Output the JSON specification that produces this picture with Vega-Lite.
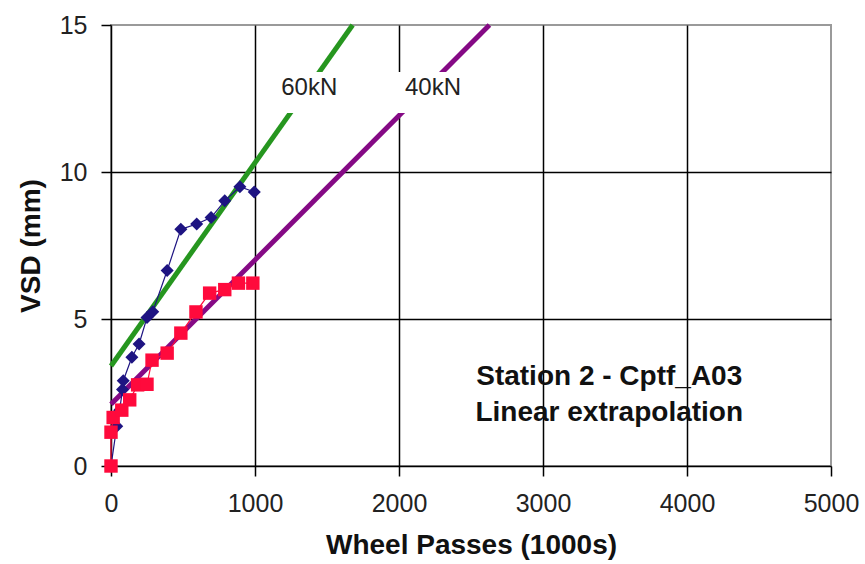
{
  "$schema": "https://vega.github.io/schema/vega-lite/v6.json",
  "width": 720,
  "height": 441,
  "autosize": "none",
  "padding": {"left": 111, "top": 25, "right": 34, "bottom": 98},
  "background": "white",
  "config": {
    "font": "Liberation Sans",
    "view": {"stroke": "#9a9a9a", "strokeWidth": 2},
    "axis": {
      "labelFont": "Liberation Sans",
      "titleFont": "Liberation Sans",
      "labelFontSize": 25,
      "labelColor": "#222",
      "titleFontSize": 28,
      "titleFontWeight": "bold",
      "titleColor": "#111",
      "domainColor": "#000",
      "domainWidth": 1.5,
      "tickColor": "#000",
      "tickWidth": 1.5,
      "tickSize": 10,
      "gridWidth": 1.5
    }
  },
  "datasets": {
    "fits": [
      {"series": "60kN", "x": 0, "y": 3.4},
      {"series": "60kN", "x": 1678, "y": 15},
      {"series": "40kN", "x": 0, "y": 2.1},
      {"series": "40kN", "x": 2628, "y": 15}
    ],
    "boxes": [
      {"x1": 1137, "x2": 1623, "y1": 12.01, "y2": 13.4},
      {"x1": 1970, "x2": 2503, "y1": 12.01, "y2": 13.4}
    ],
    "fitLabels": [
      {"label": "60kN", "x": 1377, "y": 12.86},
      {"label": "40kN", "x": 2236, "y": 12.86}
    ],
    "blue": [
      {"i": 1, "x": 0, "y": 0},
      {"i": 2, "x": 40, "y": 1.35},
      {"i": 3, "x": 60, "y": 1.9},
      {"i": 4, "x": 80, "y": 2.6},
      {"i": 5, "x": 85, "y": 2.9},
      {"i": 6, "x": 145, "y": 3.7},
      {"i": 7, "x": 195, "y": 4.15},
      {"i": 8, "x": 250, "y": 5.05},
      {"i": 9, "x": 290, "y": 5.25},
      {"i": 10, "x": 390, "y": 6.65},
      {"i": 11, "x": 485, "y": 8.05},
      {"i": 12, "x": 595, "y": 8.23},
      {"i": 13, "x": 695, "y": 8.45},
      {"i": 14, "x": 790, "y": 9.02},
      {"i": 15, "x": 895, "y": 9.5},
      {"i": 16, "x": 995, "y": 9.32}
    ],
    "red": [
      {"i": 1, "x": 0, "y": 0},
      {"i": 2, "x": 0, "y": 1.15},
      {"i": 3, "x": 15, "y": 1.65},
      {"i": 4, "x": 75, "y": 1.9},
      {"i": 5, "x": 130, "y": 2.25},
      {"i": 6, "x": 185, "y": 2.76},
      {"i": 7, "x": 250, "y": 2.78},
      {"i": 8, "x": 285, "y": 3.6},
      {"i": 9, "x": 390, "y": 3.84},
      {"i": 10, "x": 485, "y": 4.52},
      {"i": 11, "x": 590, "y": 5.24},
      {"i": 12, "x": 685, "y": 5.88},
      {"i": 13, "x": 790, "y": 6.0},
      {"i": 14, "x": 885, "y": 6.22},
      {"i": 15, "x": 985, "y": 6.22}
    ],
    "note": [
      {"text": "Station 2 - Cptf_A03", "x": 3460, "y": 3.03},
      {"text": "Linear extrapolation", "x": 3460, "y": 1.8}
    ]
  },
  "layer": [
    {
      "data": {"name": "fits"},
      "mark": {"type": "line", "strokeWidth": 5, "strokeCap": "butt"},
      "encoding": {
        "x": {
          "field": "x", "type": "quantitative",
          "scale": {"domain": [0, 5000], "nice": false, "zero": false},
          "axis": {
            "title": "Wheel Passes (1000s)",
            "values": [0, 1000, 2000, 3000, 4000, 5000],
            "format": "d",
            "grid": true,
            "gridColor": {"condition": {"test": "datum.value === 5000 || datum.value === 0", "value": "transparent"}, "value": "#000"},
            "labelPadding": 15,
            "titlePadding": 15,
            "labelFlush": false
          }
        },
        "y": {
          "field": "y", "type": "quantitative",
          "scale": {"domain": [0, 15], "nice": false},
          "axis": {
            "title": "VSD (mm)",
            "values": [0, 5, 10, 15],
            "format": "d",
            "grid": true,
            "gridColor": {"condition": {"test": "datum.value === 15 || datum.value === 0", "value": "transparent"}, "value": "#000"},
            "labelPadding": 14,
            "titlePadding": 14
          }
        },
        "color": {
          "field": "series", "type": "nominal",
          "scale": {"domain": ["60kN", "40kN"], "range": ["#26961f", "#850a85"]},
          "legend": null
        }
      }
    },
    {
      "data": {"name": "boxes"},
      "mark": {"type": "rect", "color": "white"},
      "encoding": {
        "x": {"field": "x1", "type": "quantitative"},
        "x2": {"field": "x2"},
        "y": {"field": "y1", "type": "quantitative"},
        "y2": {"field": "y2"}
      }
    },
    {
      "data": {"name": "fitLabels"},
      "mark": {"type": "text", "fontSize": 24, "color": "#222", "font": "Liberation Sans"},
      "encoding": {
        "x": {"field": "x", "type": "quantitative"},
        "y": {"field": "y", "type": "quantitative"},
        "text": {"field": "label"}
      }
    },
    {
      "data": {"name": "blue"},
      "mark": {"type": "line", "strokeWidth": 1.2, "color": "#1e1482"},
      "encoding": {
        "x": {"field": "x", "type": "quantitative"},
        "y": {"field": "y", "type": "quantitative"},
        "order": {"field": "i"}
      }
    },
    {
      "data": {"name": "blue"},
      "mark": {"type": "point", "shape": "diamond", "filled": true, "size": 170, "color": "#1e1482", "opacity": 1},
      "encoding": {
        "x": {"field": "x", "type": "quantitative"},
        "y": {"field": "y", "type": "quantitative"}
      }
    },
    {
      "data": {"name": "red"},
      "mark": {"type": "line", "strokeWidth": 1.2, "color": "#ff0a3c"},
      "encoding": {
        "x": {"field": "x", "type": "quantitative"},
        "y": {"field": "y", "type": "quantitative"},
        "order": {"field": "i"}
      }
    },
    {
      "data": {"name": "red"},
      "mark": {"type": "point", "shape": "square", "filled": true, "size": 180, "color": "#ff0a3c", "opacity": 1},
      "encoding": {
        "x": {"field": "x", "type": "quantitative"},
        "y": {"field": "y", "type": "quantitative"}
      }
    },
    {
      "data": {"name": "note"},
      "mark": {"type": "text", "fontSize": 28, "fontWeight": "bold", "color": "#111", "font": "Liberation Sans"},
      "encoding": {
        "x": {"field": "x", "type": "quantitative"},
        "y": {"field": "y", "type": "quantitative"},
        "text": {"field": "text"}
      }
    }
  ]
}
